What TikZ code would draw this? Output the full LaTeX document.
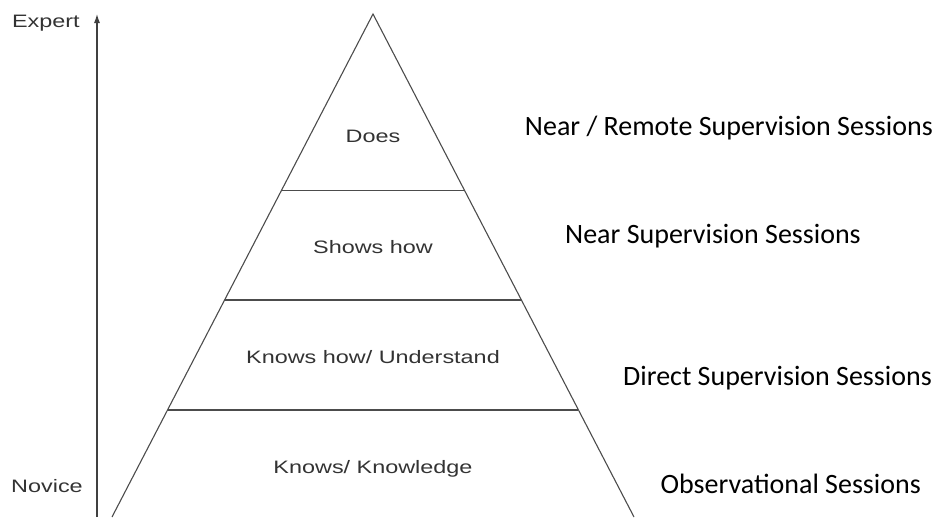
\documentclass[tikz,border=0pt]{standalone}
\usepackage{fontspec}
\setmainfont{Liberation Sans}
\newfontfamily\sessionfont{Carlito}
\usetikzlibrary{calc,arrows.meta}

\begin{document}
\begin{tikzpicture}[x=1pt, y=-1pt,
    level/.style={font=\fontsize{18}{20}\selectfont, text=black!80, xscale=1.3, inner sep=0pt},
    session/.style={font=\sessionfont\fontsize{28}{32}\selectfont, inner sep=0pt},
    edge/.style={draw=black!70, line width=1.1pt}]
    \useasboundingbox (0,0) rectangle (937,517);

    % Axe novice -> expert
    \coordinate (novice end) at (97,517);
    \coordinate (expert end) at (97,14);
    \draw[black!75, line width=1.1pt, -{Latex[length=9pt,width=6pt]}] (novice end) -- (expert end);
    \node[level, anchor=base east] (expert) at (80,27) {Expert};
    \node[level, anchor=base east] (novice) at (83,492) {Novice};

    % Pyramide
    \coordinate (apex) at (373,14);
    \coordinate (base left) at (112,517);
    \coordinate (base right) at (634,517);
    \draw[edge] (base left) -- (apex) -- (base right);

    % Separations entre niveaux
    \foreach \t/\name in {0.35/a, 0.5686/b, 0.7873/c}{
        \draw[edge] ($(apex)!\t!(base left)$) coordinate (\name l)
            -- ($(apex)!\t!(base right)$) coordinate (\name r);
    }

    % Niveaux
    \node[level, anchor=base] (does) at (373,142) {Does};
    \node[level, anchor=base] (shows) at (373,253) {Shows how};
    \node[level, anchor=base] (knowshow) at (373,363) {Knows how/ Understand};
    \node[level, anchor=base] (knows) at (373,473) {Knows/ Knowledge};

    % Sessions
    \node[session, anchor=base east] (remote) at (933,135) {Near / Remote Supervision Sessions};
    \node[session, anchor=base west] (near) at (565,243) {Near Supervision Sessions};
    \node[session, anchor=base east] (direct) at (932,385) {Direct Supervision Sessions};
    \node[session, anchor=base east] (observ) at (921,493) {Observational Sessions};

\end{tikzpicture}
\end{document}
